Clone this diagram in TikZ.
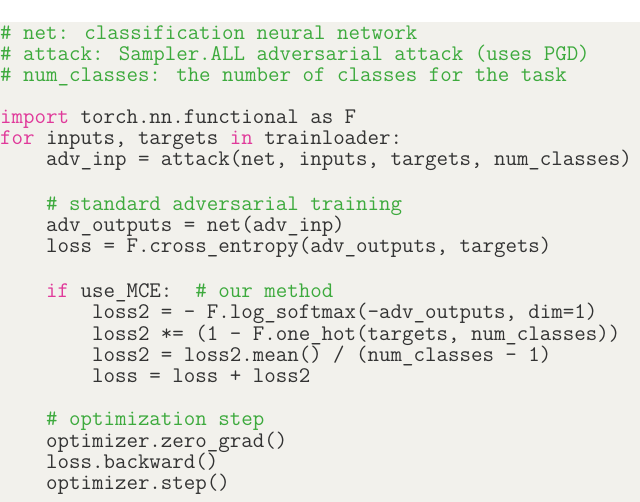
\documentclass[tikz,border=0pt]{standalone}
\usepackage{fontspec}
\definecolor{bgc}{HTML}{F2F1EC}
\definecolor{cmt}{HTML}{3DAA3D}
\definecolor{kw}{HTML}{E0399A}
\definecolor{txt}{HTML}{333333}
\begin{document}
\begin{tikzpicture}[x=1pt,y=1pt,
  code/.style={anchor=base west,inner sep=0pt,font=\ttfamily\fontsize{22.3}{23}\selectfont,text=txt}]
\useasboundingbox (0,0) rectangle (640,-502);
\fill[bgc] (0,-22) rectangle (640,-502);
\newcommand{\cm}[1]{\textcolor{cmt}{#1}}
\newcommand{\kw}[1]{\textcolor{kw}{#1}}
\node[code] (l1) at (0,-40) {\cm{\# net: classification neural network}};
\node[code] (l2) at (0,-61) {\cm{\# attack: Sampler.ALL adversarial attack (uses PGD)}};
\node[code] (l3) at (0,-82) {\cm{\# num\_classes: the number of classes for the task}};
\node[code] (l5) at (0,-124) {\kw{import} torch.nn.functional as F};
\node[code] (l6) at (0,-145) {\kw{for} inputs, targets \kw{in} trainloader:};
\node[code] (l7) at (0,-166) {\hphantom{xxxx}adv\_inp = attack(net, inputs, targets, num\_classes)};
\node[code] (l9) at (0,-211) {\hphantom{xxxx}\cm{\# standard adversarial training}};
\node[code] (l10) at (0,-232) {\hphantom{xxxx}adv\_outputs = net(adv\_inp)};
\node[code] (l11) at (0,-253) {\hphantom{xxxx}loss = F.cross\_entropy(adv\_outputs, targets)};
\node[code] (l13) at (0,-298) {\hphantom{xxxx}\kw{if} use\_MCE:\hphantom{xx}\cm{\# our method}};
\node[code] (l14) at (0,-319) {\hphantom{xxxxxxxx}loss2 = - F.log\_softmax(-adv\_outputs, dim=1)};
\node[code] (l15) at (0,-341) {\hphantom{xxxxxxxx}loss2 *= (1 - F.one\_hot(targets, num\_classes))};
\node[code] (l16) at (0,-362) {\hphantom{xxxxxxxx}loss2 = loss2.mean() / (num\_classes - 1)};
\node[code] (l17) at (0,-383) {\hphantom{xxxxxxxx}loss = loss + loss2};
\node[code] (l19) at (0,-426) {\hphantom{xxxx}\cm{\# optimization step}};
\node[code] (l20) at (0,-447) {\hphantom{xxxx}optimizer.zero\_grad()};
\node[code] (l21) at (0,-468) {\hphantom{xxxx}loss.backward()};
\node[code] (l22) at (0,-489) {\hphantom{xxxx}optimizer.step()};
\end{tikzpicture}
\end{document}
